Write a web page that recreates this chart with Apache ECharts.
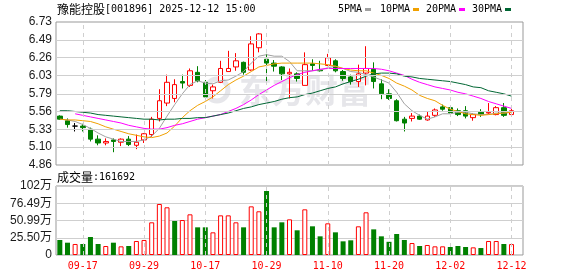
<!DOCTYPE html>
<html><head><meta charset="utf-8">
<script src="https://cdn.jsdelivr.net/npm/echarts@6/dist/echarts.min.js"></script>
<style>html,body{margin:0;padding:0;background:#fff}#c{width:578px;height:276px}</style>
</head><body><div id="c"></div>
<script>
const dates = ['09-12','09-15','09-16','09-17','09-18','09-19','09-22','09-23','09-24','09-25',
 '09-26','09-29','09-30','10-09','10-10','10-13','10-14','10-15','10-16','10-17',
 '10-20','10-21','10-22','10-23','10-24','10-27','10-28','10-29','10-30','10-31',
 '11-03','11-04','11-05','11-06','11-07','11-10','11-11','11-12','11-13','11-14',
 '11-17','11-18','11-19','11-20','11-21','11-24','11-25','11-26','11-27','11-28',
 '12-01','12-02','12-03','12-04','12-05','12-08','12-09','12-10','12-11','12-12'];
const labelDates = ['09-17','09-29','10-17','10-29','11-10','11-20','12-02','12-12'];
const opens = [5.50,5.44,5.37,5.37,5.33,5.20,5.15,5.19,5.16,5.20, 5.12,5.19,5.26,5.47,5.67,5.73,5.95,5.90,6.07,5.94,
 5.83,5.94,6.08,6.14,6.20,6.10,6.39,6.24,6.19,6.14, 6.05,6.05,5.90,6.18,6.10,6.16,6.22,6.08,6.01,5.95,
 6.06,6.11,5.92,5.79,5.70,5.46,5.47,5.50,5.45,5.51, 5.62,5.61,5.57,5.57,5.48,5.55,5.54,5.52,5.61,5.52];
const closes = [5.46,5.39,5.37,5.35,5.20,5.15,5.17,5.17,5.20,5.13, 5.16,5.27,5.46,5.70,5.94,5.91,5.93,6.09,5.96,5.75,
 5.88,6.12,6.12,6.22,6.07,6.44,6.57,6.19,6.15,6.05, 6.07,5.99,6.17,6.16,6.09,6.26,6.09,5.99,5.95,6.05,
 6.12,5.95,5.79,5.73,5.44,5.41,5.50,5.46,5.50,5.58, 5.59,5.54,5.52,5.50,5.52,5.52,5.55,5.61,5.51,5.57];
const lows = [5.45,5.35,5.30,5.30,5.17,5.12,5.12,5.03,5.11,5.11, 5.07,5.15,5.23,5.43,5.63,5.68,5.86,5.88,5.94,5.73,
 5.73,5.93,6.08,6.09,6.04,6.09,6.33,5.93,6.08,5.97, 5.73,5.95,5.90,6.09,6.08,6.15,6.07,5.96,5.91,5.88,
 5.90,5.86,5.72,5.71,5.43,5.30,5.43,5.45,5.44,5.49, 5.57,5.52,5.50,5.47,5.44,5.49,5.53,5.51,5.49,5.51];
const highs = [5.51,5.47,5.41,5.40,5.35,5.25,5.21,5.21,5.21,5.24, 5.26,5.28,5.49,5.85,6.04,5.98,6.04,6.12,6.15,5.97,
 5.91,6.22,6.35,6.32,6.21,6.54,6.58,6.31,6.23,6.15, 6.12,6.07,6.33,6.24,6.22,6.31,6.24,6.10,6.04,6.17,
 6.41,6.20,5.98,5.85,5.72,5.49,5.54,5.52,5.56,5.60, 5.65,5.61,5.60,5.63,5.54,5.59,5.67,5.63,5.67,5.63];
const ma5 = [5.46,5.45,5.43,5.39,5.34,5.28,5.23,5.20,5.17,5.17, 5.17,5.19,5.24,5.34,5.50,5.65,5.79,5.91,5.96,5.93,
 5.92,5.96,5.97,6.02,6.08,6.19,6.28,6.30,6.28,6.28, 6.21,6.09,6.09,6.09,6.10,6.13,6.15,6.12,6.08,6.07,
 6.04,6.01,5.97,5.93,5.81,5.66,5.57,5.51,5.46,5.49, 5.53,5.53,5.55,5.55,5.53,5.52,5.52,5.54,5.54,5.55];
const ma10 = [5.46,5.45,5.45,5.44,5.43,5.40,5.36,5.33,5.30,5.27, 5.25,5.23,5.22,5.24,5.28,5.37,5.48,5.57,5.64,5.69,
 5.75,5.83,5.91,5.97,6.02,6.08,6.14,6.16,6.18,6.19, 6.19,6.19,6.19,6.19,6.18,6.17,6.15,6.12,6.10,6.09,
 6.09,6.06,6.03,5.99,5.93,5.89,5.84,5.77,5.73,5.70, 5.64,5.59,5.56,5.53,5.52,5.51,5.52,5.53,5.54,5.55];
const ma20 = [null,null,5.53,5.51,5.49,5.47,5.45,5.43,5.41,5.38, 5.36,5.34,5.33,5.33,5.35,5.38,5.40,5.43,5.46,5.48,
 5.50,5.52,5.56,5.60,5.65,5.71,5.78,5.84,5.90,5.95, 6.00,6.04,6.07,6.09,6.11,6.12,6.12,6.12,6.12,6.12,
 6.12,6.12,6.11,6.09,6.06,6.03,5.98,5.94,5.91,5.88, 5.86,5.84,5.81,5.79,5.76,5.73,5.69,5.66,5.63,5.60];
const ma30 = [5.57,5.57,5.56,5.55,5.54,5.52,5.51,5.50,5.49,5.48, 5.47,5.46,5.46,5.45,5.46,5.46,5.47,5.47,5.48,5.48,
 5.50,5.52,5.54,5.57,5.60,5.62,5.65,5.67,5.69,5.72, 5.74,5.75,5.78,5.80,5.83,5.86,5.88,5.92,5.95,5.98,
 6.02,6.05,6.06,6.06,6.05,6.02,6.01,5.99,5.98,5.97, 5.96,5.95,5.93,5.91,5.88,5.87,5.83,5.81,5.79,5.76];
const volumes = [222000,182000,163000,163000,266000,163000,133000,182000,128000,133000,
 207000,222000,483000,754000,705000,503000,517000,601000,409000,409000,
 335000,586000,586000,483000,409000,719000,646000,946000,409000,483000,
 527000,365000,675000,424000,276000,468000,335000,202000,217000,424000,
 631000,379000,276000,195000,310000,222000,177000,133000,148000,128000,
 128000,118000,133000,118000,113000,103000,207000,207000,163000,161692];
const volumeRise = [0,0,1,0,0,0,1,0,1,0, 1,1,1,1,1,0,1,1,0,0, 1,1,1,1,0,1,1,0,0,0,
 1,0,1,0,0,1,0,0,0,1, 1,0,0,0,0,0,1,0,1,1, 1,0,0,0,1,0,1,1,0,1];
const priceTicks = [4.8635,5.0962,5.3289,5.5616,5.7943,6.0270,6.2597,6.4924,6.7251];
const volMax = 1019860, volInterval = 254965;
const lastVolume = 161692;

const RED = '#ff0000', GREEN = '#008000';
const cats = dates.concat(['']);
const candleData = dates.map((d, i) => [opens[i], closes[i], lows[i], highs[i]]);
const volData = volumes.map((v, i) => volumeRise[i]
  ? { value: v, itemStyle: { color: '#ffffff', borderColor: RED, borderWidth: 1 } }
  : { value: v, itemStyle: { color: GREEN, borderColor: GREEN, borderWidth: 0 } });

const vLines = labelDates.map(d => ({ xAxis: d }));
const hLines = priceTicks.slice(1, -1).map(v => ({ yAxis: v, lineStyle: { type: 'solid', color: '#cfcfcf' } }));
const mlBase = { silent: true, symbol: ['none', 'none'], label: { show: false }, animation: false,
  lineStyle: { type: [4, 4], color: '#cfcfcf', width: 1 }, emphasis: { disabled: true } };

const chart = echarts.init(document.getElementById('c'));
const mono = '"DejaVu Sans Mono", monospace';
const cjk = '"Noto Sans CJK SC", sans-serif';
const legendItems = [['5PMA', '#a0a0a0', 338], ['10PMA', '#f0a000', 380], ['20PMA', '#ff00ff', 426], ['30PMA', '#006633', 472]];
const graphics = [
  { type: 'text', x: 57, y: 9, style: { text: '{a|豫能控股}{b|[001896] 2025-12-12 15:00}', verticalAlign: 'middle',
    rich: { a: { font: '12px ' + cjk, fill: '#000' }, b: { font: '10px ' + mono, fill: '#000' } } } },
  { type: 'text', x: 57, y: 177, style: { text: '{a|成交量}{b|:' + lastVolume + '}', verticalAlign: 'middle',
    rich: { a: { font: '12px ' + cjk, fill: '#000' }, b: { font: '10px ' + mono, fill: '#000' } } } },
  { type: 'text', x: 239, y: 90, z: -1, style: { text: '东方财富', font: 'bold 33px ' + cjk, fill: '#e6e6ea', verticalAlign: 'middle' } },
  { type: 'circle', z: -1, shape: { cx: 217, cy: 90, r: 11 }, style: { fill: 'none', stroke: '#e6e6ea', lineWidth: 5 } }
];
legendItems.forEach(([t, c, x]) => {
  graphics.push({ type: 'text', x: x, y: 9, style: { text: t, font: '10px ' + mono, fill: '#000', verticalAlign: 'middle' } });
  graphics.push({ type: 'rect', shape: { x: x + t.length * 6 + 3, y: 8, width: 6, height: 3 }, style: { fill: c } });
});

const maSeries = [[ma5, '#a0a0a0'], [ma10, '#f0a000'], [ma20, '#ff00ff'], [ma30, '#006633']].map(([d, c]) => ({
  type: 'line', data: d, xAxisIndex: 0, yAxisIndex: 0, symbol: 'none', showSymbol: false, z: 4,
  lineStyle: { color: c, width: 1 }, itemStyle: { color: c }, silent: true, animation: false
}));

chart.setOption({
  animation: false,
  graphic: graphics,
  grid: [
    { left: 56, top: 22, width: 467, height: 143, show: true, borderColor: '#999', borderWidth: 1, backgroundColor: 'transparent' },
    { left: 56, top: 186, width: 467, height: 69, show: true, borderColor: '#999', borderWidth: 1, backgroundColor: 'transparent' }
  ],
  xAxis: [
    { type: 'category', gridIndex: 0, data: cats, boundaryGap: true, axisLine: { show: false }, axisTick: { show: false },
      axisLabel: { show: false }, splitLine: { show: false } },
    { type: 'category', gridIndex: 1, data: cats, boundaryGap: true, axisLine: { show: false }, axisTick: { show: false },
      splitLine: { show: false },
      axisLabel: { show: true, interval: (i, v) => labelDates.includes(v), color: RED, font: '10px ' + mono,
        fontFamily: mono, fontSize: 10, margin: 6, hideOverlap: false } }
  ],
  yAxis: [
    { type: 'value', gridIndex: 0, min: priceTicks[0], max: priceTicks[priceTicks.length - 1], scale: true,
      axisLine: { show: false }, axisTick: { show: false, customValues: priceTicks }, splitLine: { show: false },
      axisLabel: { customValues: priceTicks, formatter: v => v.toFixed(2), color: '#1a1a1a', fontSize: 12,
        fontFamily: '"Liberation Sans", Arial, sans-serif', margin: 4 } },
    { type: 'value', gridIndex: 1, min: 0, max: volMax, interval: volInterval,
      axisLine: { show: false }, axisTick: { show: false },
      splitLine: { show: true, lineStyle: { color: '#cfcfcf', width: 1 } },
      axisLabel: { formatter: v => v === 0 ? '0' : (v >= volMax - 1 ? Math.round(v / 10000) + '万' : (v / 10000).toFixed(2) + '万'),
        color: '#1a1a1a', fontSize: 12, fontFamily: '"Liberation Sans", "Noto Sans CJK SC", sans-serif', margin: 4,
        showMinLabel: true, showMaxLabel: true } }
  ],
  series: [
    { type: 'line', data: [], xAxisIndex: 0, yAxisIndex: 0, z: 1, silent: true,
      markLine: Object.assign({}, mlBase, { data: vLines.concat(hLines) }) },
    { type: 'line', data: [], xAxisIndex: 1, yAxisIndex: 1, z: 1, silent: true,
      markLine: Object.assign({}, mlBase, { data: vLines }) },
    { type: 'candlestick', data: candleData, xAxisIndex: 0, yAxisIndex: 0, barWidth: 5, z: 3, silent: true,
      itemStyle: { color: '#ffffff', color0: GREEN, borderColor: RED, borderColor0: GREEN, borderColorDoji: '#000000', borderWidth: 1 } },
    ...maSeries,
    { type: 'bar', data: volData, xAxisIndex: 1, yAxisIndex: 1, barWidth: 5, z: 3, silent: true }
  ]
});
</script></body></html>
